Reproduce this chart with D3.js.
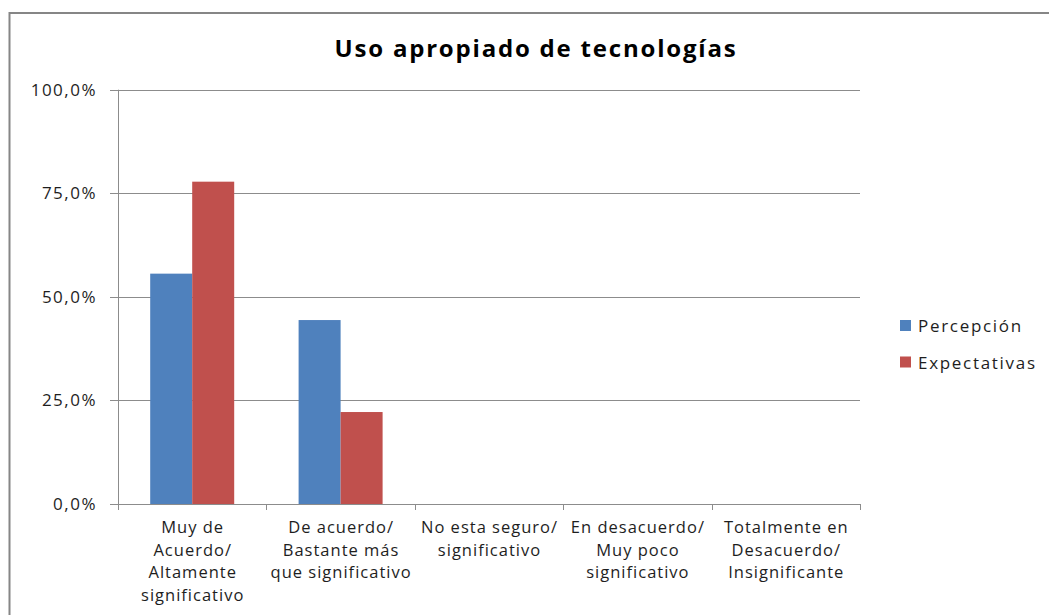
<!DOCTYPE html>
<html>
<head>
<meta charset="utf-8">
<script src="https://cdn.jsdelivr.net/npm/d3@7"></script>
<style>
  body { margin: 0; background: #fff; }
  text { font-family: "Open Sans", sans-serif; fill: #1e1e1e; }
</style>
</head>
<body>
<svg id="chart" width="1049" height="615"></svg>
<script>
const categories = [
    ["Muy de", "Acuerdo/", "Altamente", "significativo"],
    ["De acuerdo/", "Bastante más", "que significativo"],
    ["No esta seguro/", "significativo"],
    ["En desacuerdo/", "Muy poco", "significativo"],
    ["Totalmente en", "Desacuerdo/", "Insignificante"]
];
const seriesNames = ["Percepción", "Expectativas"];
const percepcion = [0.556, 0.444, 0, 0, 0];
const expectativas = [0.778, 0.222, 0, 0, 0];
const yTicks = [0, 0.25, 0.5, 0.75, 1];
const colors = ["#4F81BD", "#C0504D"];

const svg = d3.select("#chart");

// outer frame, runs off the right and bottom edges like the screenshot
svg.append("rect")
    .attr("x", 9.5).attr("y", 13)
    .attr("width", 1100).attr("height", 700)
    .attr("fill", "none")
    .attr("stroke", "#868686")
    .attr("stroke-width", 2);

const plotLeft = 118, plotRight = 860, plotTop = 89.7, plotBottom = 504;

let xScale = d3.scaleBand()
    .domain(d3.range(categories.length))
    .range([plotLeft, plotRight]);
let yScale = d3.scaleLinear()
    .domain([0, 1])
    .range([plotBottom, plotTop]);
let innerScale = d3.scaleBand()
    .domain(d3.range(seriesNames.length))
    .range([0, 84]);

const fmt = v => d3.format(".1f")(v * 100).replace(".", ",") + "%";

// gridlines
svg.append("g").selectAll("line")
    .data(yTicks)
    .enter().append("line")
    .attr("x1", plotLeft - 8).attr("x2", plotRight)
    .attr("y1", d => Math.round(yScale(d)) + 0.5)
    .attr("y2", d => Math.round(yScale(d)) + 0.5)
    .attr("stroke", "#8c8c8c");

// y axis line
svg.append("line")
    .attr("x1", plotLeft + 0.5).attr("x2", plotLeft + 0.5)
    .attr("y1", plotTop).attr("y2", plotBottom)
    .attr("stroke", "#8c8c8c");

svg.append("g").selectAll("text")
    .data(yTicks)
    .enter().append("text")
    .attr("x", 97)
    .attr("y", d => yScale(d) + 6)
    .attr("text-anchor", "end")
    .attr("font-size", 17)
    .attr("letter-spacing", 1.5)
    .text(fmt);

// x tick marks
svg.append("g").selectAll("line")
    .data(d3.range(categories.length + 1))
    .enter().append("line")
    .attr("x1", i => Math.round(plotLeft + i * xScale.bandwidth()) + 0.5)
    .attr("x2", i => Math.round(plotLeft + i * xScale.bandwidth()) + 0.5)
    .attr("y1", plotBottom).attr("y2", plotBottom + 6)
    .attr("stroke", "#8c8c8c");

// bars
const series = [percepcion, expectativas];
series.forEach(function(values, s) {
    svg.append("g").selectAll("rect")
        .data(values)
        .enter().append("rect")
        .attr("x", (d, i) => xScale(i) + xScale.bandwidth() / 2 - 42 + innerScale(s))
        .attr("y", d => yScale(d))
        .attr("width", innerScale.bandwidth())
        .attr("height", d => plotBottom - yScale(d))
        .attr("fill", colors[s]);
});

// category labels
categories.forEach(function(lines, i) {
    let t = svg.append("text")
        .attr("text-anchor", "middle")
        .attr("font-size", 16.5)
        .attr("letter-spacing", 1);
    lines.forEach(function(line, j) {
        t.append("tspan")
            .attr("x", xScale(i) + xScale.bandwidth() / 2 + 0.5)
            .attr("y", 533 + j * 22.7)
            .text(line);
    });
});

// title
svg.append("text")
    .attr("x", 536).attr("y", 57)
    .attr("text-anchor", "middle")
    .attr("font-size", 24)
    .attr("font-weight", "bold")
    .attr("letter-spacing", 1.8)
    .style("fill", "#000")
    .text("Uso apropiado de tecnologías");

// legend
seriesNames.forEach(function(name, s) {
    svg.append("rect")
        .attr("x", 900).attr("y", 320 + s * 36.5)
        .attr("width", 11).attr("height", 11)
        .attr("fill", colors[s]);
    svg.append("text")
        .attr("x", 918).attr("y", 332 + s * 36.5)
        .attr("font-size", 17)
        .attr("letter-spacing", 1.7)
        .text(name);
});
</script>
</body>
</html>
